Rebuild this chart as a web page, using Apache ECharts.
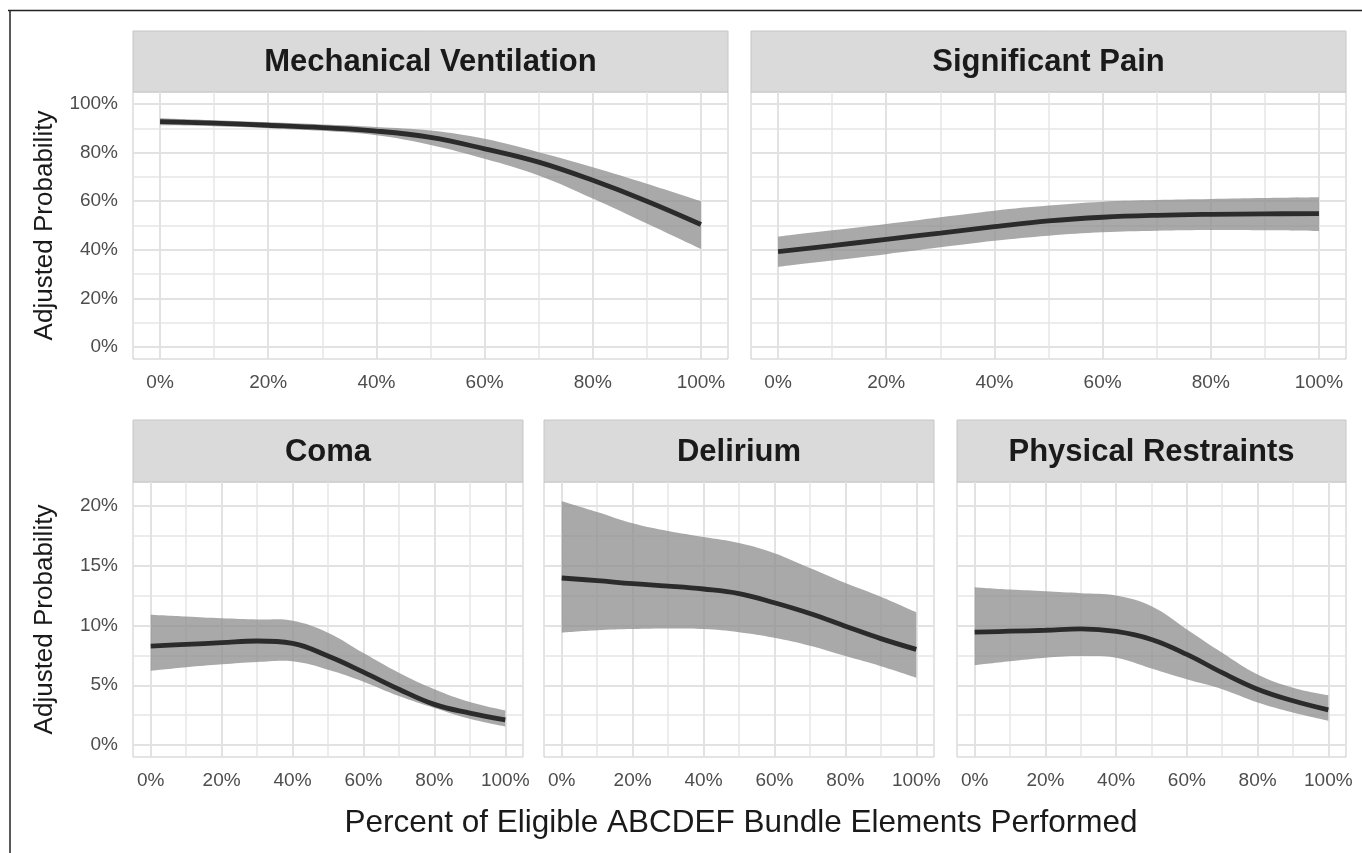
<!DOCTYPE html>
<html>
<head>
<meta charset="utf-8">
<script src="https://cdn.jsdelivr.net/npm/echarts@6/dist/echarts.min.js"></script>
<style>
html,body{margin:0;padding:0;background:#fff;}
#chart{width:1362px;height:853px;}
</style>
</head>
<body>
<div id="chart"></div>
<script>
// ---------- DATA ----------
const xPct = [0, 10, 20, 30, 40, 50, 60, 70, 80, 90, 100];
const panelTitles = ['Mechanical Ventilation', 'Significant Pain', 'Coma', 'Delirium', 'Physical Restraints'];

const mvFit   = [92.8, 92.2, 91.3, 90.3, 88.9, 86.3, 81.6, 76.1, 68.6, 60.0, 50.4];
const mvUpper = [94.2, 93.4, 92.5, 91.6, 90.6, 89.1, 85.7, 80.2, 74.0, 67.2, 60.0];
const mvLower = [91.3, 90.9, 90.1, 89.0, 87.2, 83.2, 77.5, 70.6, 61.1, 50.8, 40.3];

const spFit   = [39.2, 41.7, 44.3, 46.9, 49.5, 51.9, 53.4, 54.2, 54.6, 54.8, 54.9];
const spUpper = [45.4, 48.0, 50.6, 53.4, 56.1, 58.2, 59.8, 60.5, 60.9, 61.3, 61.6];
const spLower = [33.0, 35.6, 38.2, 41.0, 43.7, 45.8, 47.2, 47.8, 48.1, 48.0, 47.7];

const comaFit   = [8.28, 8.42, 8.56, 8.70, 8.50, 7.44, 6.10, 4.67, 3.40, 2.67, 2.10];
const comaUpper = [10.9, 10.75, 10.6, 10.5, 10.4, 9.4, 7.7, 6.05, 4.67, 3.6, 2.9];
const comaLower = [6.2, 6.5, 6.75, 6.95, 7.0, 6.3, 5.3, 4.1, 3.1, 2.2, 1.55];

const delFit   = [13.97, 13.75, 13.5, 13.3, 13.05, 12.67, 11.9, 11.0, 9.94, 8.9, 8.0];
const delUpper = [20.4, 19.5, 18.55, 17.9, 17.4, 16.9, 16.05, 14.8, 13.55, 12.4, 11.1];
const delLower = [9.4, 9.6, 9.7, 9.75, 9.7, 9.44, 8.97, 8.3, 7.44, 6.6, 5.64];

const prFit   = [9.44, 9.52, 9.6, 9.72, 9.5, 8.83, 7.58, 6.05, 4.67, 3.7, 2.94];
const prUpper = [13.2, 13.0, 12.86, 12.7, 12.5, 11.6, 9.67, 7.72, 5.9, 4.8, 4.17];
const prLower = [6.67, 7.0, 7.3, 7.44, 7.3, 6.4, 5.5, 4.67, 3.56, 2.72, 2.03];

const xTicks = [0, 20, 40, 60, 80, 100];
const xMinorTicks = [10, 30, 50, 70, 90];
const topYTicks = [0, 20, 40, 60, 80, 100];
const topYMinorTicks = [10, 30, 50, 70, 90];
const bottomYTicks = [0, 5, 10, 15, 20];
const bottomYMinorTicks = [2.5, 7.5, 12.5, 17.5];

const yTitle = 'Adjusted Probability';
const xTitle = 'Percent of Eligible ABCDEF Bundle Elements Performed';

// ---------- LAYOUT / STYLE ----------
const FONT = '"Liberation Sans", Arial, Helvetica, sans-serif';
const SMOOTH = 0.4;
const panels = [
  {fit: mvFit, up: mvUpper, lo: mvLower, left: 133, top: 92, width: 595, height: 267, yMin: -5, yMax: 105, yT: topYTicks, yM: topYMinorTicks, showY: true, strip: 61},
  {fit: spFit, up: spUpper, lo: spLower, left: 751, top: 92, width: 595, height: 267, yMin: -5, yMax: 105, yT: topYTicks, yM: topYMinorTicks, showY: false, strip: 61},
  {fit: comaFit, up: comaUpper, lo: comaLower, left: 133, top: 482, width: 390, height: 275, yMin: -1, yMax: 22, yT: bottomYTicks, yM: bottomYMinorTicks, showY: true, strip: 62},
  {fit: delFit, up: delUpper, lo: delLower, left: 544, top: 482, width: 390, height: 275, yMin: -1, yMax: 22, yT: bottomYTicks, yM: bottomYMinorTicks, showY: false, strip: 62},
  {fit: prFit, up: prUpper, lo: prLower, left: 957, top: 482, width: 389, height: 275, yMin: -1, yMax: 22, yT: bottomYTicks, yM: bottomYMinorTicks, showY: false, strip: 62}
];

// smooth path through pixel points (same scheme as ECharts line smoothing)
function bezierPath(pts, smooth, moveFirst) {
  let d = '';
  const n = pts.length;
  const cpAfter = [], cpBefore = [];
  for (let i = 0; i < n; i++) {
    const p = pts[i];
    if (i === 0 || i === n - 1) { cpAfter.push(p); cpBefore.push(p); continue; }
    const p0 = pts[i - 1], p2 = pts[i + 1];
    const vx = p2[0] - p0[0], vy = p2[1] - p0[1];
    const lp = Math.hypot(p[0] - p0[0], p[1] - p0[1]);
    const ln = Math.hypot(p2[0] - p[0], p2[1] - p[1]);
    const r = ln / (ln + lp);
    cpAfter.push([p[0] + vx * smooth * r, p[1] + vy * smooth * r]);
    cpBefore.push([p[0] - vx * smooth * (1 - r), p[1] - vy * smooth * (1 - r)]);
  }
  d += (moveFirst ? 'M' : 'L') + pts[0][0].toFixed(2) + ',' + pts[0][1].toFixed(2);
  for (let i = 1; i < n; i++) {
    const a = cpAfter[i - 1], b = cpBefore[i], p = pts[i];
    d += 'C' + a[0].toFixed(2) + ',' + a[1].toFixed(2) + ' ' + b[0].toFixed(2) + ',' + b[1].toFixed(2) + ' ' + p[0].toFixed(2) + ',' + p[1].toFixed(2);
  }
  return d;
}

const grids = [], xAxes = [], yAxes = [], series = [], graphics = [];
const pct = v => v + '%';

panels.forEach((p, i) => {
  grids.push({left: p.left, top: p.top, width: p.width, height: p.height,
    show: true, borderColor: '#c9c9c9', borderWidth: 1, backgroundColor: 'transparent',
    containLabel: false, outerBoundsMode: 'none'});
  xAxes.push({type: 'value', gridIndex: i, position: 'bottom', min: -5, max: 105,
    axisLine: {show: false}, axisTick: {show: false, customValues: xTicks},
    axisLabel: {show: true, customValues: xTicks, formatter: pct, color: '#4d4d4d', fontSize: 19, fontFamily: FONT, margin: 14},
    splitLine: {show: true, lineStyle: {color: '#e2e2e2', width: 2}}});
  xAxes.push({type: 'value', gridIndex: i, position: 'top', min: -5, max: 105,
    axisLine: {show: false}, axisTick: {show: false, customValues: xMinorTicks},
    axisLabel: {show: false},
    splitLine: {show: true, lineStyle: {color: '#e6e6e6', width: 1.5}}});
  yAxes.push({type: 'value', gridIndex: i, position: 'left', min: p.yMin, max: p.yMax,
    axisLine: {show: false}, axisTick: {show: false, customValues: p.yT},
    axisLabel: {show: p.showY, customValues: p.yT, formatter: pct, color: '#4d4d4d', fontSize: 19, fontFamily: FONT, margin: 15},
    splitLine: {show: true, lineStyle: {color: '#e2e2e2', width: 2}}});
  yAxes.push({type: 'value', gridIndex: i, position: 'right', min: p.yMin, max: p.yMax,
    axisLine: {show: false}, axisTick: {show: false, customValues: p.yM},
    axisLabel: {show: false},
    splitLine: {show: true, lineStyle: {color: '#e6e6e6', width: 1.5}}});

  // confidence ribbon: one polygon built through the axes' scales
  const bandData = xPct.map((x, k) => [x, p.lo[k], p.up[k]]);
  series.push({type: 'custom', name: 'band' + i, xAxisIndex: 2 * i, yAxisIndex: 2 * i,
    silent: true, animation: false, clip: false, z: 3,
    data: [bandData[0]],
    encode: {x: 0, y: [1, 2]},
    renderItem: function (params, api) {
      const upPts = bandData.map(r => api.coord([r[0], r[2]]));
      const loPts = bandData.map(r => api.coord([r[0], r[1]])).reverse();
      const d = bezierPath(upPts, SMOOTH, true) + bezierPath(loPts, SMOOTH, false) + 'Z';
      return {type: 'path', shape: {pathData: d}, style: {fill: '#8c8c8c', opacity: 0.75, stroke: null}};
    }});
  series.push({type: 'line', name: 'fit' + i, xAxisIndex: 2 * i, yAxisIndex: 2 * i,
    data: xPct.map((x, k) => [x, p.fit[k]]), showSymbol: false, symbol: 'none',
    smooth: SMOOTH, silent: true, animation: false, z: 5,
    lineStyle: {color: '#2b2b2b', width: 4.8, cap: 'butt'}});

  graphics.push({type: 'rect', silent: true,
    shape: {x: p.left, y: p.top - p.strip, width: p.width, height: p.strip},
    style: {fill: '#dadada', stroke: '#c6c6c6', lineWidth: 1}});
  graphics.push({type: 'text', silent: true, x: p.left + p.width / 2, y: p.top - p.strip / 2 + 1,
    style: {text: panelTitles[i], align: 'center', verticalAlign: 'middle',
      font: 'bold 31px ' + FONT, fill: '#1a1a1a'}});
});

graphics.push({type: 'line', silent: true, shape: {x1: 8, y1: 10.5, x2: 1362, y2: 10.5}, style: {stroke: '#222', lineWidth: 1.5}});
graphics.push({type: 'line', silent: true, shape: {x1: 10, y1: 10, x2: 10, y2: 853}, style: {stroke: '#222', lineWidth: 1.5}});
[225.5, 619.5].forEach(cy => {
  graphics.push({type: 'text', silent: true, x: 45, y: cy, rotation: Math.PI / 2,
    style: {text: yTitle, align: 'center', verticalAlign: 'middle', font: '26px ' + FONT, fill: '#1a1a1a'}});
});
graphics.push({type: 'text', silent: true, x: 741, y: 823,
  style: {text: xTitle, align: 'center', verticalAlign: 'middle', font: '31.5px ' + FONT, fill: '#1a1a1a'}});

const chart = echarts.init(document.getElementById('chart'), null, {renderer: 'canvas'});
chart.setOption({
  animation: false,
  backgroundColor: '#ffffff',
  grid: grids,
  xAxis: xAxes,
  yAxis: yAxes,
  series: series,
  graphic: graphics
});
</script>
</body>
</html>
